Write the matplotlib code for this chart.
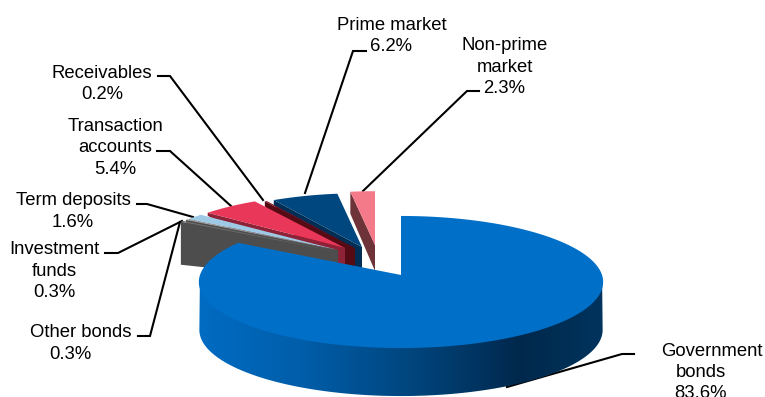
import numpy as np
import matplotlib
matplotlib.use("Agg")
import matplotlib.pyplot as plt
from matplotlib.patches import Polygon

plt.rcParams['font.family'] = ['Liberation Sans', 'DejaVu Sans']

# Portfolio shares in percent, clockwise from twelve o'clock
categories = ["Government\nbonds", "Other bonds", "Investment\nfunds", "Term deposits",
              "Transaction\naccounts", "Receivables", "Prime market", "Non-prime\nmarket"]
shares = [83.6, 0.3, 0.3, 1.6, 5.4, 0.2, 6.2, 2.3]

# Styling and placement per slice, same order as above
top_colors = ["#006FC8", "#6E6E6E", "#A8A8A8", "#9ECAE6", "#E93759", "#7A1020", "#00467F", "#F47A8A"]
side_colors = ["#006FC8", "#4D4D4D", "#4D4D4D", "#4D4D4D", "#8E2237", "#560A14", "#002E55", "#6E3339"]
apexes = [(401, 275), (334, 251), (337, 250), (338, 250), (345, 248), (355, 248), (362, 247), (375, 245)]
rim_depths = [48, 43, 43, 2, 3, 5, 5, 22]
apex_depths = [48, 30, 30, 30, 46, 46, 48, 26]
label_centers = [(701, 370.5), (70, 341.5), (54, 269), (73, 209.5),
                 (115.5, 146), (102, 82), (391.5, 34), (504.5, 65)]
first_line_shift = [11, 11, 0, 0, 0, 0, 0, 0]
leaders = [[(507, 387), (622, 354), (634, 354)],
           [(138, 336), (150, 336), (180, 222)],
           [(105, 253), (118, 253), (182, 221)],
           [(137, 204), (147, 204), (193, 217)],
           [(157, 151), (170, 151), (231, 206)],
           [(158, 76), (170, 76), (263, 200)],
           [(366, 51), (353, 51), (305, 193)],
           [(479, 91), (467, 91), (363, 191)]]

PERSPECTIVE = 0.106
LINE_STEP = 21.5


def rim(apex, angles, rx, ry):
    """Project circle angles (clockwise from the top) onto the tilted pie plane."""
    den = 1 + PERSPECTIVE * np.cos(angles)
    return np.column_stack([apex[0] + rx * np.sin(angles) / den,
                            apex[1] - ry * np.cos(angles) / den])


fig = plt.figure(figsize=(7.65, 3.97), dpi=100)
ax = fig.add_axes([0, 0, 1, 1])

# Slice boundaries in radians; the largest slice starts at twelve o'clock
edges = np.cumsum([0] + shares) / sum(shares) * 2 * np.pi
starts, stops = edges[:-1], edges[1:]

# Leader lines go under the pie
for path in leaders:
    xs, ys = zip(*path)
    ax.plot(xs, ys, color="black", lw=1.5, solid_joinstyle="miter", zorder=1)

# Small exploded slices, painted from the back so nearer ones hide the cut faces behind
for order, i in enumerate(range(len(shares) - 1, 0, -1)):
    apex = apexes[i]
    arc = rim(apex, np.linspace(starts[i], stops[i], 40), 189, 59.5)
    far = arc[0]
    face = [far, apex, (apex[0], apex[1] + apex_depths[i]), (far[0], far[1] + rim_depths[i])]
    ax.add_patch(Polygon(face, closed=True, fc=side_colors[i], ec="none", zorder=2 + order * 0.01))
    ax.add_patch(Polygon(np.vstack([arc, apex]), closed=True, fc=top_colors[i],
                         ec="none", zorder=2.005 + order * 0.01))

# Main slice: outer wall shaded left to right, tucked under the top surface to avoid a seam
main_apex = apexes[0]
wall_angles = np.linspace(np.pi / 2 + 0.106, 1.5 * np.pi - 0.106, 300)
upper = rim(main_apex, wall_angles, 200, 63)
lower = rim(main_apex, wall_angles, 200.5, 65.3) + [0, rim_depths[0]]
wall = Polygon(np.vstack([upper, lower[::-1]]), closed=True, fc="none", ec="none", zorder=3)
ax.add_patch(wall)
shade_x = [199, 300, 400, 470, 520, 560, 605]
shade_rgb = np.array([[0, 108, 195], [0, 94, 170], [0, 72, 130], [0, 54, 100],
                      [0, 40, 76], [0, 46, 84], [0, 52, 94]]) / 255
xgrid = np.linspace(199, 605, 400)
grad = np.column_stack([np.interp(xgrid, shade_x, shade_rgb[:, k]) for k in range(3)])[None, :, :]
im = ax.imshow(grad, extent=(199, 605, 400, 270), aspect="auto", zorder=3, interpolation="bilinear")
im.set_clip_path(wall)

arc = rim(main_apex, np.linspace(starts[0], stops[0], 500), 201, 65.3)
ax.add_patch(Polygon(np.vstack([arc, main_apex]), closed=True, fc=top_colors[0], ec="none", zorder=4))

# Category labels with their percentages, one text per line
for name, value, (x, y), shift in zip(categories, shares, label_centers, first_line_shift):
    lines = name.split("\n") + [f"{value:.1f}%"]
    top = y - LINE_STEP * (len(lines) - 1) / 2
    for k, line in enumerate(lines):
        ax.text(x + (shift if k == 0 else 0), top + k * LINE_STEP, line, ha="center", va="center_baseline",
                fontsize=13.3, color="black", zorder=5)

ax.set_xlim(0, 765)
ax.set_ylim(397, 0)
ax.axis("off")

fig.savefig("out.png", dpi=100)
